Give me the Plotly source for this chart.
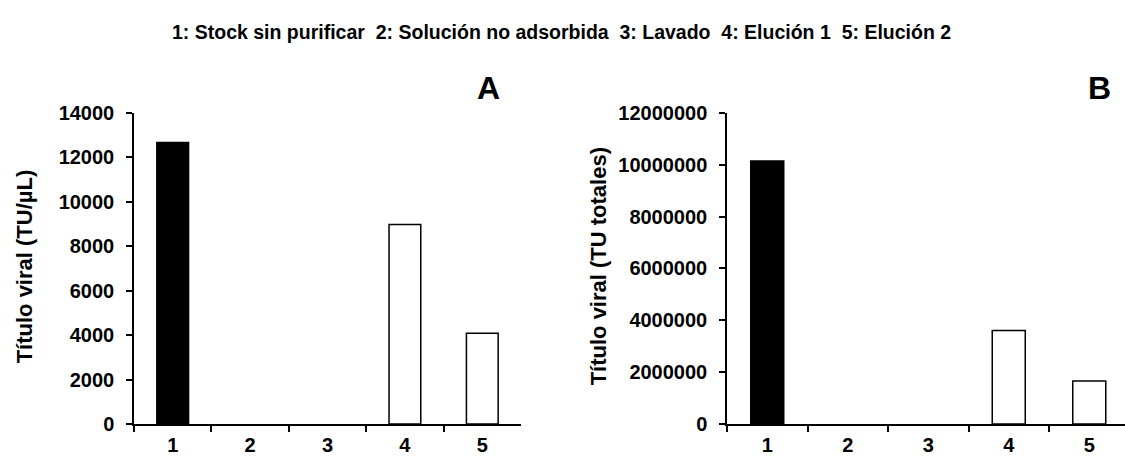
import plotly.graph_objects as go

categories = ["1", "2", "3", "4", "5"]
titer_per_ul = [12670, 0, 0, 8980, 4090]
titer_total = [10150000, 0, 0, 3610000, 1660000]
bar_colors = ["black", "white", "white", "white", "white"]
outline_widths = [1.5, 0, 0, 1.5, 1.5]
ticks_a = [0, 2000, 4000, 6000, 8000, 10000, 12000, 14000]
ticks_b = [0, 2000000, 4000000, 6000000, 8000000, 10000000, 12000000]

title_text = "1: Stock sin purificar \u00a02: Solución no adsorbida \u00a03: Lavado \u00a04: Elución 1 \u00a05: Elución 2"

W, H = 1125, 466
FONT = "Liberation Sans, Arial, sans-serif"

def px_x(p):
    return p / W

def px_y(p):
    return 1 - p / H

fig = go.Figure()
fig.add_trace(go.Bar(x=categories, y=titer_per_ul, xaxis="x", yaxis="y",
                     marker=dict(color=bar_colors, line=dict(color="black", width=outline_widths)),
                     showlegend=False, hoverinfo="x+y"))
fig.add_trace(go.Bar(x=categories, y=titer_total, xaxis="x2", yaxis="y2",
                     marker=dict(color=bar_colors, line=dict(color="black", width=outline_widths)),
                     showlegend=False, hoverinfo="x+y"))

common_x = dict(type="category", showline=True, linecolor="black", linewidth=1.5,
                ticks="outside", tickson="boundaries", ticklen=6, tickwidth=1.5,
                tickcolor="black", showgrid=False, zeroline=False, ticklabelstandoff=2,
                tickvals=categories, ticktext=[f"<b>{c}</b>" for c in categories],
                tickfont=dict(family=FONT, size=20, color="black", weight="bold"))
common_y = dict(showline=True, linecolor="black", linewidth=1.5, ticks="outside",
                ticklen=6, tickwidth=1.5, tickcolor="black", showgrid=False,
                zeroline=False, ticklabelstandoff=8,
                tickfont=dict(family=FONT, size=20, color="black", weight="bold"))

y_dom = [px_y(433.5), px_y(107)]

fig.update_layout(
    width=W, height=H,
    margin=dict(l=0, r=0, t=0, b=0),
    paper_bgcolor="white", plot_bgcolor="white",
    bargap=0.59,
    xaxis=dict(common_x, domain=[px_x(134), px_x(521)], anchor="y", range=[-0.5, 4.5]),
    yaxis=dict(common_y, domain=y_dom, anchor="x", range=[0, 14000], tickvals=ticks_a,
               ticktext=[f"<b>{v}</b>" for v in ticks_a]),
    xaxis2=dict(common_x, domain=[px_x(727), 1.0], anchor="y2", range=[-0.5, 4.444]),
    yaxis2=dict(common_y, domain=y_dom, anchor="x2", range=[0, 12000000], tickvals=ticks_b,
                ticktext=[f"<b>{v}</b>" for v in ticks_b]),
    annotations=[
        dict(text=title_text, x=0.499, y=px_y(22), xref="paper", yref="paper",
             xanchor="center", yanchor="middle", showarrow=False,
             font=dict(family=FONT, size=19.5, color="black", weight="bold")),
        dict(text="A", x=px_x(488), y=px_y(80.5), xref="paper", yref="paper",
             xanchor="center", yanchor="middle", showarrow=False,
             font=dict(family=FONT, size=32, color="black", weight="bold")),
        dict(text="B", x=px_x(1099), y=px_y(80.5), xref="paper", yref="paper",
             xanchor="center", yanchor="middle", showarrow=False,
             font=dict(family=FONT, size=32, color="black", weight="bold")),
        dict(text="Título viral (TU/µL)", x=px_x(24), y=px_y(268), xref="paper", yref="paper",
             xanchor="center", yanchor="middle", showarrow=False, textangle=-90,
             font=dict(family=FONT, size=22, color="black", weight="bold")),
        dict(text="Título viral (TU totales)", x=px_x(598), y=px_y(268), xref="paper", yref="paper",
             xanchor="center", yanchor="middle", showarrow=False, textangle=-90,
             font=dict(family=FONT, size=22, color="black", weight="bold")),
    ],
)

fig.write_html("out.html",
               config={"displayModeBar": False},
               post_script="document.body.style.margin='0';document.body.style.overflow='hidden';")
